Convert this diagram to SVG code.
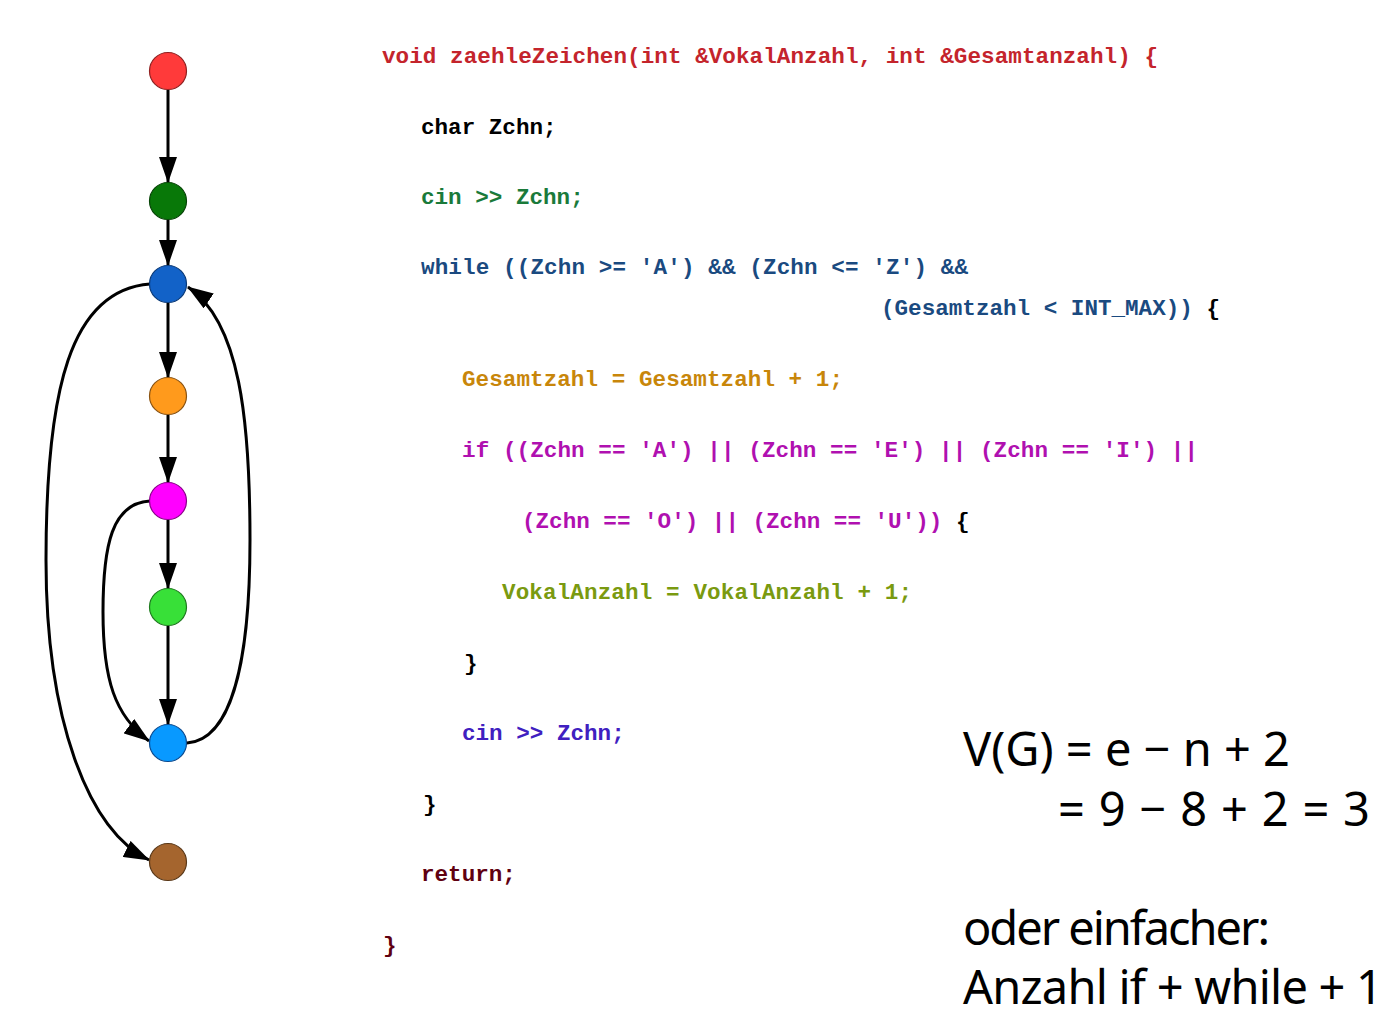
<svg xmlns="http://www.w3.org/2000/svg" width="1395" height="1030" viewBox="0 0 1395 1030">
<style>
.n{stroke-width:1.2}
.e{fill:none;stroke:#000;stroke-width:3;marker-end:url(#ah)}
.code{font-family:"Liberation Mono","Courier New",monospace;font-weight:bold;font-size:22.6px;white-space:pre}
.math{font-family:"Noto Sans","Open Sans",sans-serif;font-size:47px;fill:#000}
</style>
<defs>
<marker id="ah" markerUnits="userSpaceOnUse" viewBox="0 0 26 18" refX="25" refY="9" markerWidth="26" markerHeight="18" orient="auto">
<path d="M0,0 L26,9 L0,18 z" fill="#000"/>
</marker>
</defs>
<rect width="1395" height="1030" fill="#fff"/>
<g id="connectors">
<path class="e" d="M168,90 L168,182"/>
<path class="e" d="M168,220 L168,265"/>
<path class="e" d="M168,303 L168,377"/>
<path class="e" d="M168,415 L168,482"/>
<path class="e" d="M168,520 L168,588"/>
<path class="e" d="M168,626 L168,724"/>
<path class="e" d="M150,501 C112,503 103,545 103,612 C103,680 115,716 149,741"/>
<path class="e" d="M187,743 C232,740 250,660 250,540 C250,420 240,322 188,287"/>
<path class="e" d="M150,284 C70,290 46,390 46,560 C46,720 88,830 149,860"/>
</g>
<g id="n1"><circle class="n" cx="168" cy="71" r="18.5" fill="#ff3a3a" stroke="#902020"/></g>
<g id="n2"><circle class="n" cx="168" cy="201" r="18.5" fill="#087808" stroke="#064406"/></g>
<g id="n3"><circle class="n" cx="168" cy="284" r="18.5" fill="#1262c8" stroke="#0a3a78"/></g>
<g id="n4"><circle class="n" cx="168" cy="396" r="18.5" fill="#ff9a1c" stroke="#8a5210"/></g>
<g id="n5"><circle class="n" cx="168" cy="501" r="18.5" fill="#ff00ff" stroke="#8a008a"/></g>
<g id="n6"><circle class="n" cx="168" cy="607" r="18.5" fill="#38e038" stroke="#1e7a1e"/></g>
<g id="n7"><circle class="n" cx="168" cy="743" r="18.5" fill="#0899ff" stroke="#0a4a90"/></g>
<g id="n8"><circle class="n" cx="168" cy="862" r="18.5" fill="#a5652e" stroke="#5a3818"/></g>
<g id="code" class="code">
<text x="382" y="63" fill="#c4242c" textLength="776">void zaehleZeichen(int &amp;VokalAnzahl, int &amp;Gesamtanzahl) {</text>
<text x="421" y="134" fill="#000">char Zchn;</text>
<text x="421" y="204" fill="#1a7a3a">cin &gt;&gt; Zchn;</text>
<text x="421" y="274" fill="#1a4a80" textLength="547">while ((Zchn &gt;= 'A') &amp;&amp; (Zchn &lt;= 'Z') &amp;&amp;</text>
<text x="881" y="315" fill="#1a4a80">(Gesamtzahl &lt; INT_MAX)) <tspan fill="#000">{</tspan></text>
<text x="462" y="386" fill="#c8860a" textLength="381">Gesamtzahl = Gesamtzahl + 1;</text>
<text x="462" y="457" fill="#b010b0" textLength="736">if ((Zchn == 'A') || (Zchn == 'E') || (Zchn == 'I') ||</text>
<text x="522" y="528" fill="#b010b0">(Zchn == 'O') || (Zchn == 'U')) <tspan fill="#000">{</tspan></text>
<text x="502" y="599" fill="#7a9a10" textLength="410">VokalAnzahl = VokalAnzahl + 1;</text>
<text x="464" y="670" fill="#000">}</text>
<text x="462" y="740" fill="#4020c0">cin &gt;&gt; Zchn;</text>
<text x="423" y="811" fill="#000">}</text>
<text x="421" y="881" fill="#600010">return;</text>
<text x="383" y="952" fill="#600010">}</text>
</g>
<g id="formula" class="math">
<text x="963" y="766" textLength="327">V(G) = e − n + 2</text>
<text x="1058" y="826" textLength="312">= 9 − 8 + 2 = 3</text>
<text x="963" y="945" textLength="307">oder einfacher:</text>
<text x="963" y="1004" textLength="420">Anzahl if + while + 1</text>
</g>
</svg>
